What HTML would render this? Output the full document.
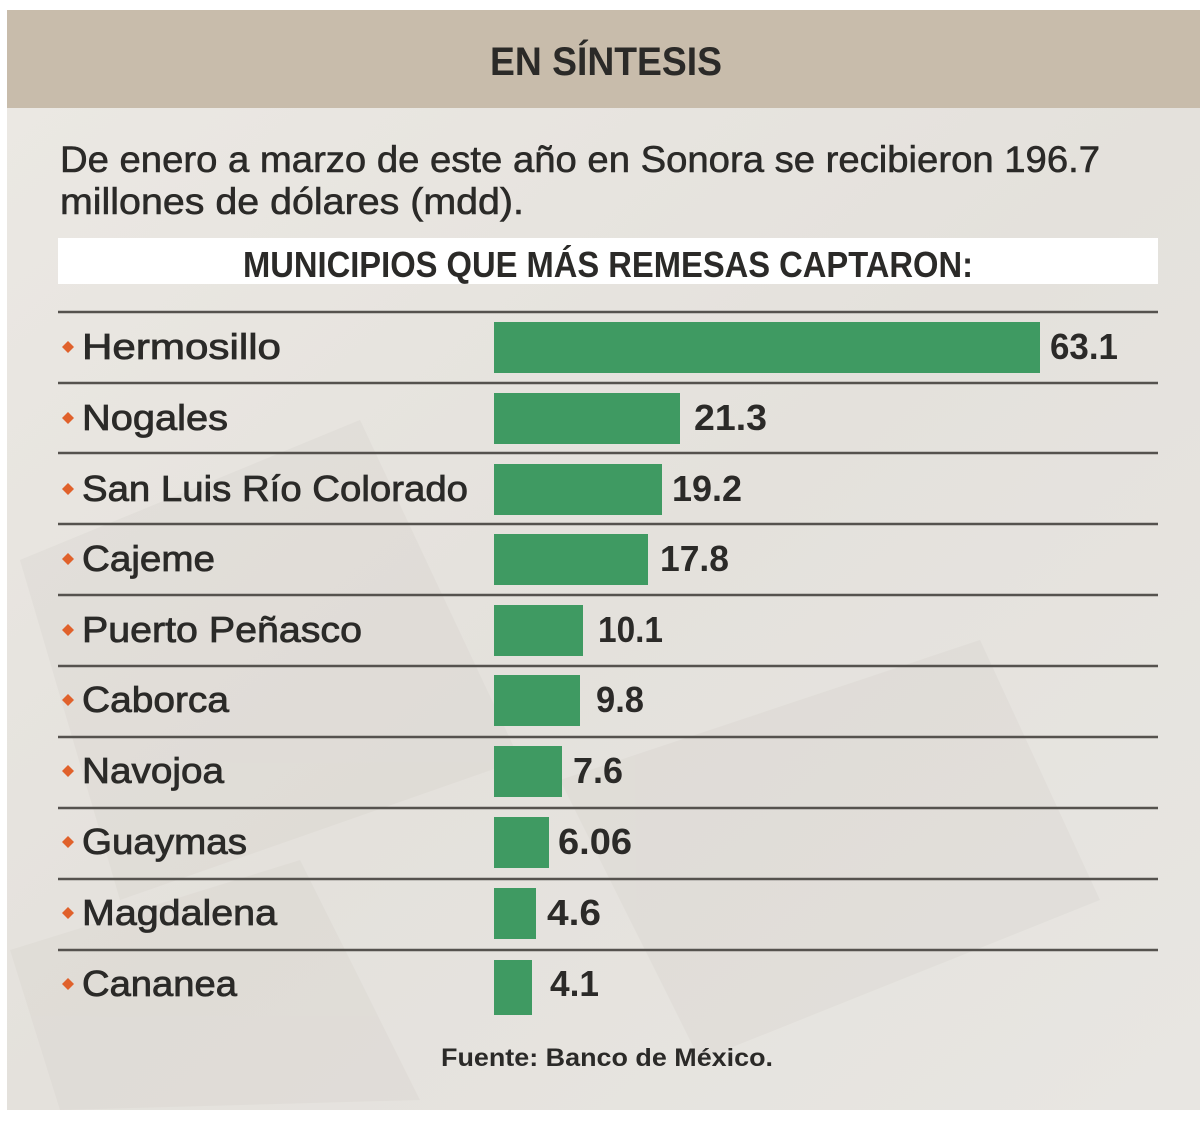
<!DOCTYPE html>
<html><head><meta charset="utf-8"><style>
html,body{margin:0;padding:0;background:#fff;}
svg{display:block;}
text{font-family:"Liberation Sans",sans-serif;fill:#2b2a28;}
</style></head><body>
<svg width="1200" height="1128" viewBox="0 0 1200 1128" xmlns="http://www.w3.org/2000/svg">
<defs>
<linearGradient id="bg" x1="0" y1="0" x2="1" y2="1">
<stop offset="0" stop-color="#ebe8e3"/><stop offset="0.5" stop-color="#e4e1dc"/><stop offset="1" stop-color="#e8e6e2"/>
</linearGradient>
</defs>
<rect x="0" y="0" width="1200" height="1128" fill="#fff"/>
<rect x="7" y="108" width="1193" height="1002" fill="url(#bg)"/>
<g opacity="0.2" fill="#cfcac3">
<polygon points="20,560 360,420 520,760 120,900"/>
<polygon points="560,780 980,640 1100,900 700,1060"/>
<polygon points="10,950 300,860 420,1100 60,1110"/>
</g>
<rect x="7" y="10" width="1193" height="98" fill="#c8bcab"/>
<text x="490" y="75" font-size="40" font-weight="bold" textLength="232" lengthAdjust="spacingAndGlyphs">EN SÍNTESIS</text>
<g stroke="#2b2a28" stroke-width="0.6">
<text x="60" y="172" font-size="37" textLength="1040" lengthAdjust="spacingAndGlyphs">De enero a marzo de este año en Sonora se recibieron 196.7</text>
<text x="60" y="214" font-size="37" textLength="464" lengthAdjust="spacingAndGlyphs">millones de dólares (mdd).</text>
</g>
<rect x="58" y="238" width="1100" height="46" fill="#fff"/>
<text x="243" y="277" font-size="36" font-weight="bold" textLength="730" lengthAdjust="spacingAndGlyphs">MUNICIPIOS QUE MÁS REMESAS CAPTARON:</text>
<g stroke="#55524e" stroke-width="2.5">
<line x1="58" y1="312" x2="1158" y2="312"/><line x1="58" y1="383" x2="1158" y2="383"/>
<line x1="58" y1="453" x2="1158" y2="453"/><line x1="58" y1="524" x2="1158" y2="524"/>
<line x1="58" y1="595" x2="1158" y2="595"/><line x1="58" y1="666" x2="1158" y2="666"/>
<line x1="58" y1="737" x2="1158" y2="737"/><line x1="58" y1="808" x2="1158" y2="808"/>
<line x1="58" y1="879" x2="1158" y2="879"/><line x1="58" y1="950" x2="1158" y2="950"/>
</g>
<g fill="#3f9a62">
<rect x="494" y="322" width="546" height="51"/>
<rect x="494" y="393" width="186" height="51"/>
<rect x="494" y="464" width="168" height="51"/>
<rect x="494" y="534" width="154" height="51"/>
<rect x="494" y="605" width="89" height="51"/>
<rect x="494" y="675" width="86" height="51"/>
<rect x="494" y="746" width="68" height="51"/>
<rect x="494" y="817" width="55" height="51"/>
<rect x="494" y="888" width="42" height="51"/>
<rect x="494" y="960" width="38" height="55"/>
</g>
<g fill="#e0612b">
<polygon points="68,341 74,347 68,353 62,347"/><polygon points="68,412 74,418 68,424 62,418"/>
<polygon points="68,483 74,489 68,495 62,489"/><polygon points="68,553 74,559 68,565 62,559"/>
<polygon points="68,624 74,630 68,636 62,630"/><polygon points="68,694 74,700 68,706 62,700"/>
<polygon points="68,765 74,771 68,777 62,771"/><polygon points="68,836 74,842 68,848 62,842"/>
<polygon points="68,907 74,913 68,919 62,913"/><polygon points="68,978 74,984 68,990 62,984"/>
</g>
<g font-size="36" stroke="#2b2a28" stroke-width="0.8">
<text x="82" y="359" textLength="199" lengthAdjust="spacingAndGlyphs">Hermosillo</text>
<text x="82" y="430" textLength="146" lengthAdjust="spacingAndGlyphs">Nogales</text>
<text x="82" y="501" textLength="386" lengthAdjust="spacingAndGlyphs">San Luis Río Colorado</text>
<text x="82" y="571" textLength="133" lengthAdjust="spacingAndGlyphs">Cajeme</text>
<text x="82" y="642" textLength="280" lengthAdjust="spacingAndGlyphs">Puerto Peñasco</text>
<text x="82" y="712" textLength="147" lengthAdjust="spacingAndGlyphs">Caborca</text>
<text x="82" y="783" textLength="142" lengthAdjust="spacingAndGlyphs">Navojoa</text>
<text x="82" y="854" textLength="165" lengthAdjust="spacingAndGlyphs">Guaymas</text>
<text x="82" y="925" textLength="195" lengthAdjust="spacingAndGlyphs">Magdalena</text>
<text x="82" y="996" textLength="155" lengthAdjust="spacingAndGlyphs">Cananea</text>
</g>
<g font-size="36" font-weight="bold">
<text x="1050" y="359" textLength="68" lengthAdjust="spacingAndGlyphs">63.1</text>
<text x="694" y="430" textLength="73" lengthAdjust="spacingAndGlyphs">21.3</text>
<text x="672" y="501" textLength="70" lengthAdjust="spacingAndGlyphs">19.2</text>
<text x="660" y="571" textLength="69" lengthAdjust="spacingAndGlyphs">17.8</text>
<text x="598" y="642" textLength="65" lengthAdjust="spacingAndGlyphs">10.1</text>
<text x="596" y="712" textLength="48" lengthAdjust="spacingAndGlyphs">9.8</text>
<text x="573" y="783" textLength="50" lengthAdjust="spacingAndGlyphs">7.6</text>
<text x="558" y="854" textLength="74" lengthAdjust="spacingAndGlyphs">6.06</text>
<text x="547" y="925" textLength="54" lengthAdjust="spacingAndGlyphs">4.6</text>
<text x="550" y="996" textLength="49" lengthAdjust="spacingAndGlyphs">4.1</text>
</g>
<text x="441" y="1066" font-size="25" font-weight="bold" fill="#3a3936" textLength="332" lengthAdjust="spacingAndGlyphs">Fuente: Banco de México.</text>
</svg>
</body></html>
